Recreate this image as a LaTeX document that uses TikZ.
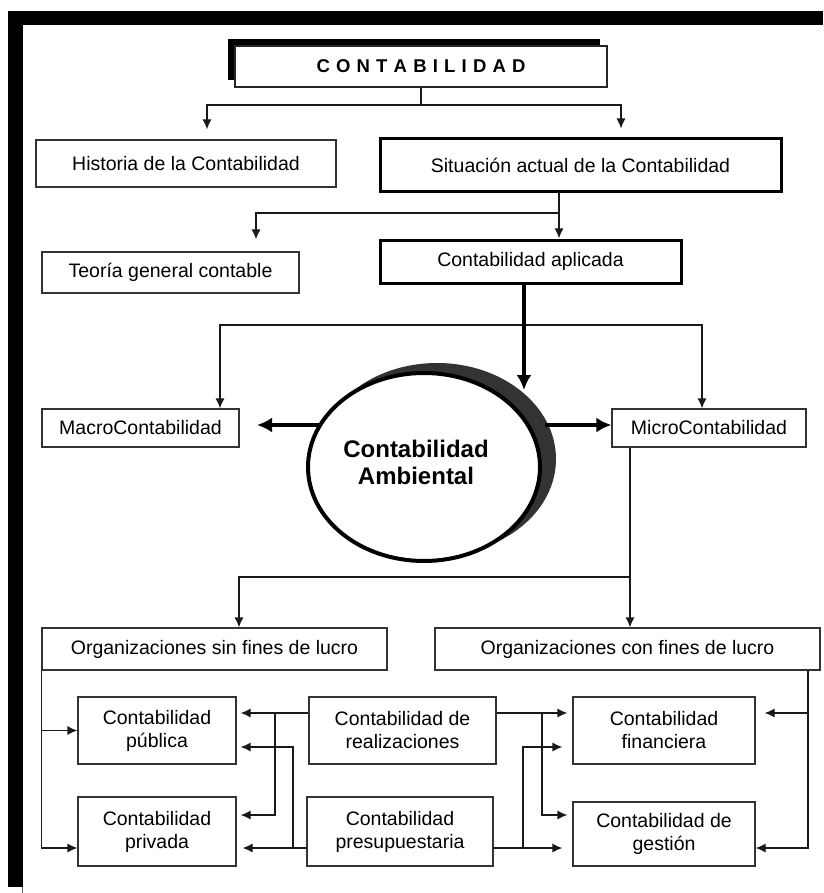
\documentclass[tikz,border=0pt]{standalone}
\usepackage{fontspec}
\setmainfont{Liberation Sans}
\usetikzlibrary{arrows.meta,shapes.geometric}
\newcommand\boxfont{\fontsize{19.5}{23}\selectfont}
\newcommand\lsp{\kern6.2pt}
\tikzset{
  bx/.style={draw=black!80, line width=1.2pt, inner sep=0pt, font=\boxfont, align=center, fill=white},
  thk/.style={bx, draw=black, line width=3pt},
  arr/.style={draw=black!90, line width=1.2pt, -{Latex[length=10pt,width=9pt]}},
  ln/.style={draw=black!90, line width=1.2pt},
  thkarr/.style={draw=black, line width=4pt, -{Latex[length=15pt,width=15pt]}}
}
\begin{document}
\begin{tikzpicture}[x=1pt,y=-1pt]
\useasboundingbox (0,0) rectangle (823,893);
% frame
\fill[black] (8,11) rectangle (823,25);
\fill[black] (8,11) rectangle (23,887);
\draw[black!60, line width=0.8pt] (22,887) -- (22,893);

% header
\fill[black] (228,39) rectangle (600,80);
\node[bx, draw=black!85, line width=1.3pt, minimum width=372pt, minimum height=41pt] (header) at (421,66.5)
  {\fontsize{18.5}{20}\selectfont\bfseries C\lsp O\lsp N\lsp T\lsp A\lsp B\lsp I\lsp L\lsp I\lsp D\lsp A\lsp D};

% level 2
\node[bx, minimum width=300pt, minimum height=47pt] (historia) at (186,163.5) {Historia de la Contabilidad};
\node[thk, minimum width=401pt, minimum height=53pt] (situacion) at (580.5,165.5) {Situación actual de la Contabilidad};

\coordinate (jh) at (421,105);
\coordinate (jl) at (207,105);
\coordinate (jr) at (621,105);
\draw[ln] (header.south) -- (jh);
\draw[arr, shorten >=10pt] (jh) -| (historia.north -| jl);
\draw[arr, shorten >=9pt] (jh) -| (situacion.north -| jr);

% level 3
\node[bx, minimum width=257pt, minimum height=41pt] (teoria) at (170.5,272.5) {Teoría general contable};
\node[thk, minimum width=301pt, minimum height=43pt] (aplicada) at (530.5,261.5) {Contabilidad aplicada};

\coordinate (s1) at (559,213);
\coordinate (t1) at (256,213);
\draw[ln, line width=1.6pt] (situacion.south -| s1) -- (s1);
\draw[arr, line width=1.6pt] (s1) -- (aplicada.north -| s1);
\draw[arr, shorten >=12pt] (s1) -- (t1) -- (teoria.north -| t1);

% macro / micro
\node[bx, minimum width=197pt, minimum height=38pt] (macro) at (140.5,428) {MacroContabilidad};
\node[bx, minimum width=194pt, minimum height=38pt] (micro) at (709,428) {MicroContabilidad};

\coordinate (m1) at (220,325);
\coordinate (m2) at (702,325);
\draw[arr] (m2) -| (macro.north -| m1);
\draw[arr] (m1) -| (micro.north -| m2);

% ellipse with shadow
\fill[black!80] (437,459) ellipse [x radius=119pt, y radius=96pt];
\coordinate (tl0) at (335,425);
\coordinate (tl1) at (257,425);
\draw[thkarr] (tl0) -- (tl1);
\node[ellipse, draw=black, fill=white, line width=4pt, minimum width=232pt, minimum height=188pt, inner sep=0pt] (ell) at (424,467) {};
\node[font=\bfseries\fontsize{24}{27}\selectfont, align=center] (elltext) at (416,462) {Contabilidad\\Ambiental};
\coordinate (tr0) at (545,425);
\draw[thkarr] (tr0) -- (micro.west |- tr0);
\coordinate (a1) at (524,390);
\draw[thkarr] (aplicada.south -| a1) -- (a1);

% organizations
\node[bx, minimum width=345pt, minimum height=42pt] (orgsin) at (214.5,649) {Organizaciones sin fines de lucro};
\node[bx, minimum width=385pt, minimum height=42pt] (orgcon) at (627.5,649) {Organizaciones con fines de lucro};

\coordinate (c1) at (630,577);
\coordinate (c2) at (239,577);
\draw[ln] (micro.south -| c1) -- (c1);
\draw[arr] (c1) -- (orgcon.north -| c1);
\draw[arr] (c1) -- (c2) -- (orgsin.north -| c2);

% bottom boxes
\node[bx, minimum width=158pt, minimum height=67pt] (publica) at (157,730.5) {Contabilidad\\pública};
\node[bx, minimum width=158pt, minimum height=69pt] (privada) at (157,831.5) {Contabilidad\\privada};
\node[bx, minimum width=187pt, minimum height=67pt] (realiz) at (402.5,730.5) {Contabilidad de\\realizaciones};
\node[bx, minimum width=186pt, minimum height=69pt] (presup) at (400,831.5) {Contabilidad\\presupuestaria};
\node[bx, minimum width=182pt, minimum height=67pt] (financ) at (664,730.5) {Contabilidad\\financiera};
\node[bx, minimum width=182pt, minimum height=64pt] (gestion) at (664,834) {Contabilidad de\\gestión};

% left connectors
\coordinate (RL1) at (275,713);
\coordinate (RL1b) at (275,815);
\coordinate (RL2) at (293,747);
\coordinate (RL2b) at (293,848);
\draw[arr, shorten >=4pt] (realiz.west |- RL1) -- (publica.east |- RL1);
\draw[arr, shorten >=4pt] (RL1) -- (RL1b) -- (privada.east |- RL1b);
\draw[arr, shorten >=6pt] (presup.west |- RL2b) -- (privada.east |- RL2b);
\draw[arr, shorten >=4pt] (RL2b) -- (RL2) -- (publica.east |- RL2);

% right connectors
\coordinate (RR1) at (542,713);
\coordinate (RR1b) at (542,815);
\coordinate (RR2) at (523,747);
\coordinate (RR2b) at (523,848);
\draw[arr, shorten >=5pt] (realiz.east |- RR1) -- (financ.west |- RR1);
\draw[arr, shorten >=5pt] (RR1) -- (RR1b) -- (gestion.west |- RR1b);
\draw[arr, shorten >=10pt] (presup.east |- RR2b) -- (gestion.west |- RR2b);
\draw[arr, shorten >=10pt] (RR2b) -- (RR2) -- (financ.west |- RR2);

% org side connectors
\draw[arr] (orgsin.south west) |- (publica.west);
\draw[arr] (orgsin.south west) |- (privada.west |- RL2b);
\coordinate (OC1) at (808,713);
\coordinate (OC2) at (808,848);
\draw[arr, shorten >=9pt] (orgcon.south -| OC1) |- (financ.east |- OC1);
\draw[arr] (orgcon.south -| OC2) |- (gestion.east |- OC2);
\end{tikzpicture}
\end{document}
